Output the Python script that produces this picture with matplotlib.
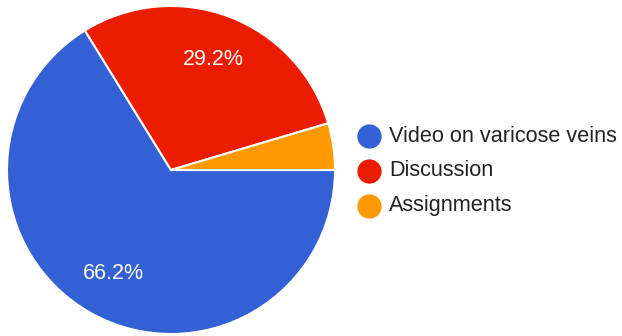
import matplotlib
matplotlib.use("Agg")
import matplotlib.pyplot as plt
from matplotlib.lines import Line2D

# data
labels = ['Video on varicose veins', 'Discussion', 'Assignments']
shares = [66.2, 29.2, 4.6]
colors = ['#3360d4', '#ec1c00', '#ff9900']

plt.rcParams['font.family'] = ['Liberation Sans', 'DejaVu Sans']

W, H = 622, 336
fig = plt.figure(figsize=(W / 100, H / 100), dpi=100)

# pie area: centre ~(171,170) px, radius ~164 px
ax = fig.add_axes([7 / W, 2 / H, 328 / W, 328 / H])


def pct(v):
    return f'{v:.1f}%' if v >= 5 else ''


wedges, texts, autotexts = ax.pie(
    shares, colors=colors, startangle=0, counterclock=False,
    autopct=pct, pctdistance=0.72,
    wedgeprops=dict(edgecolor='white', linewidth=1.5),
    textprops=dict(color='white', fontsize=15.5),
)
ax.set_xlim(-1, 1)
ax.set_ylim(-1, 1)
ax.set_aspect('equal')

# legend, drawn by hand
rows_y = [136, 171, 206]
for lab, col, y in zip(labels, colors, rows_y):
    fy = 1 - y / H
    fig.add_artist(Line2D([368.5 / W], [fy], marker='o', markersize=16.5,
                          color=col, linestyle='none', transform=fig.transFigure))
    fig.text(389 / W, fy, lab, fontsize=15.6, color='#222222',
             va='center', ha='left')

fig.savefig('out.png', dpi=100)
